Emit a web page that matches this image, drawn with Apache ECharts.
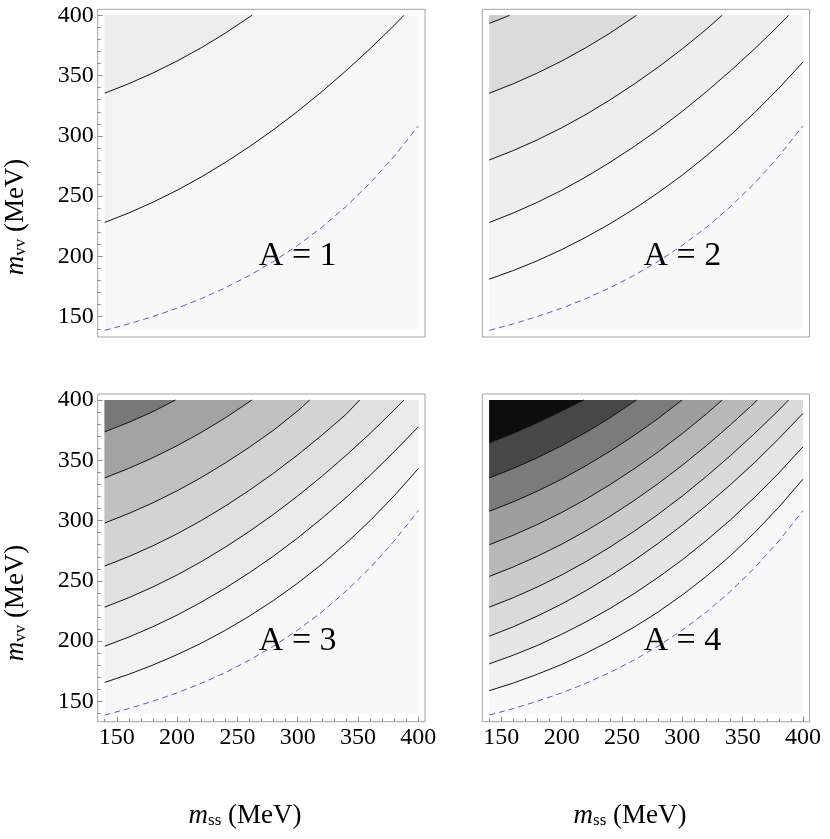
<!DOCTYPE html>
<html><head><meta charset="utf-8">
<script src="https://cdn.jsdelivr.net/npm/echarts@6/dist/echarts.min.js"></script>
<style>html,body{margin:0;padding:0;background:#fff}#c{width:830px;height:839px}</style>
</head><body><div id="c"></div>
<script>
// ---------- data ----------
const majorTicks = [150, 200, 250, 300, 350, 400];
const minorTicks = [140, 160, 170, 180, 190, 210, 220, 230, 240, 260, 270, 280, 290, 310, 320, 330, 340, 360, 370, 380, 390];
const panelTitles = ['A = 1', 'A = 2', 'A = 3', 'A = 4'];
const titlePoint = [300, 200];
const plotBox = [[140, 140], [400, 140]];

// contour lines [m_ss, m_vv]
const c393 = [[140,393.4],[148,396.4],[156.8,400]];
const c374 = [[140,373.6],[160,381.5],[180,390.4],[198.6,400]];
const c365 = [[140,364.5],[160,372.4],[180,381.3],[200,391.0],[218.2,400]];
const c335 = [[140,335.4],[160,343.3],[180,352.2],[200,362.1],[220,373.1],[240,385.2],[262,400]];
const c308 = [[140,307.7],[160,315.6],[180,324.5],[200,334.4],[220,345.4],[240,357.5],[260,370.6],[280,384.7],[299.8,400]];
const c298 = [[140,298],[160,305.9],[180,314.8],[200,324.7],[220,335.7],[240,347.8],[260,360.9],[280,375.0],[300,391.0],[310,400]];
const c280 = [[140,280],[160,287.9],[180,296.8],[200,306.7],[220,317.7],[240,329.8],[260,342.9],[280,357.0],[300,372.2],[320,388.5],[333,400]];
const c262 = [[140,262.3],[160,270.2],[180,279.1],[200,289.0],[220,300.0],[240,312.1],[260,325.2],[280,339.3],[300,354.5],[320,370.8],[340,388.1],[351.4,400]];
const c254 = [[140,253.7],[160,261.6],[180,270.5],[200,280.4],[220,291.4],[240,303.5],[260,316.6],[280,330.7],[300,345.9],[320,362.2],[340,379.5],[360,397.8],[362,400]];
const c228 = [[140,228.2],[160,236.1],[180,245.0],[200,254.9],[220,265.9],[240,278.0],[260,291.1],[280,305.2],[300,320.4],[320,336.7],[340,354.0],[360,372.3],[380,391.7],[388,400]];
const c204 = [[140,204.1],[160,212.0],[180,220.9],[200,230.8],[220,241.8],[240,253.9],[260,267.0],[280,281.1],[300,296.3],[320,312.6],[340,329.9],[360,348.2],[380,368.0],[400,388.9]];
const c196 = [[140,195.8],[160,203.4],[180,212.0],[200,221.6],[220,232.3],[240,244.0],[260,256.8],[280,270.6],[300,285.6],[320,301.8],[340,319.0],[360,337.5],[380,357.2],[400,377.8]];
const c181 = [[140,181.2],[160,188.4],[180,196.5],[200,205.7],[220,215.9],[240,227.1],[260,239.4],[280,252.9],[300,267.5],[320,283.5],[340,300.7],[360,319.4],[380,339.5],[400,361.2]];
const c166 = [[140,165.8],[160,172.5],[180,180.2],[200,188.8],[220,198.3],[240,209.0],[260,220.8],[280,233.8],[300,248.1],[320,263.8],[340,281.1],[360,299.9],[380,320.6],[400,343.2]];
const c159 = [[140,158.9],[160,165.3],[180,172.6],[200,180.7],[220,189.9],[240,200.2],[260,211.6],[280,224.2],[300,238.3],[320,253.8],[340,271.0],[360,290.1],[380,311.1],[400,334.3]];
const boundary = [[140,138.7],[160,144.1],[180,150.2],[200,157.1],[220,165.0],[240,174.0],[260,184.3],[280,195.9],[300,209.2],[320,224.2],[340,241.4],[360,260.9],[380,283.1],[400,308.3]];

const panelContours = [
  [c228, c335],
  [c181, c228, c280, c335, c393],
  [c166, c196, c228, c262, c298, c335, c374],
  [c159, c181, c204, c228, c254, c280, c308, c335, c365]
];

// ---------- styles ----------
const bandColors = [
  ['#f8f8f8','#f3f3f3','#ededed'],
  ['#f8f8f8','#f4f4f4','#efefef','#e7e7e7','#dbdbdb','#cbcbcb'],
  ['#f8f8f8','#f2f2f2','#eaeaea','#e0e0e0','#d3d3d3','#c1c1c1','#a3a3a3','#787878'],
  ['#f8f8f8','#f0f0f0','#e6e6e6','#dadada','#cbcbcb','#b8b8b8','#9e9e9e','#7b7b7b','#474747','#0d0d0d']
];
const FONT = '"Liberation Serif","Times New Roman",serif';
const XMIN = 134.2, XMAX = 405.5, YMIN = 133.2, YMAX = 405;
const gridPos = [[97.7, 9.3], [482.3, 9.3], [97.7, 394], [482.3, 394]];
const GW = 327.3, GH = 327.7;
const showX = [false, false, true, true];
const showY = [true, false, true, false];
const tickColor = '#8c8c8c';

const grid = [], xAxis = [], yAxis = [], series = [];
panelContours.forEach((contours, g) => {
  grid.push({left: gridPos[g][0], top: gridPos[g][1], width: GW, height: GH, show: true,
    borderColor: '#a3a3a3', borderWidth: 1, backgroundColor: 'transparent'});
  const base = {gridIndex: g, type: 'value', axisLine: {show: false, onZero: false}, splitLine: {show: false}};
  const lab = {fontFamily: FONT, fontSize: 24, color: '#000'};
  xAxis.push(Object.assign({}, base, {min: XMIN, max: XMAX, show: showX[g], position: 'bottom',
    axisLabel: {show: false}, axisTick: {show: true, inside: true, length: 3, customValues: minorTicks, lineStyle: {color: tickColor}}}));
  xAxis.push(Object.assign({}, base, {min: XMIN, max: XMAX, show: showX[g], position: 'bottom',
    axisLabel: Object.assign({show: true, customValues: majorTicks, margin: 4}, lab),
    axisTick: {show: true, inside: true, length: 5, customValues: majorTicks, lineStyle: {color: tickColor}}}));
  yAxis.push(Object.assign({}, base, {min: YMIN, max: YMAX, show: showY[g], position: 'left',
    axisLabel: {show: false}, axisTick: {show: true, inside: true, length: 3, customValues: minorTicks, lineStyle: {color: tickColor}}}));
  yAxis.push(Object.assign({}, base, {min: YMIN, max: YMAX, show: showY[g], position: 'left',
    axisLabel: Object.assign({show: true, customValues: majorTicks, margin: 4}, lab),
    axisTick: {show: true, inside: true, length: 5, customValues: majorTicks, lineStyle: {color: tickColor}}}));
  const ax = {xAxisIndex: 2 * g, yAxisIndex: 2 * g};
  series.push(Object.assign({type: 'line', data: plotBox, symbol: 'none', silent: true, z: 1,
    lineStyle: {opacity: 0}, areaStyle: {origin: 400, color: bandColors[g][0], opacity: 1}}, ax));
  contours.forEach((c, k) => {
    series.push(Object.assign({type: 'line', data: c, symbol: 'none', silent: true, z: 2,
      lineStyle: {color: '#111', width: 1}, areaStyle: {origin: 400, color: bandColors[g][k + 1], opacity: 1}}, ax));
  });
  series.push(Object.assign({type: 'line', data: boundary, symbol: 'none', silent: true, z: 3,
    lineStyle: {color: '#5c5cc8', width: 1, type: [6, 4]}}, ax));
  series.push(Object.assign({type: 'scatter', data: [titlePoint], symbolSize: 1, silent: true, z: 4,
    itemStyle: {color: 'rgba(0,0,0,0)'},
    label: {show: true, position: 'inside', formatter: panelTitles[g], fontFamily: FONT, fontSize: 34,
      color: '#000', textBorderWidth: 0, opacity: 1}}, ax));
});

const rich = {
  m: {font: 'italic 27px ' + FONT, fill: '#000', lineHeight: 34, verticalAlign: 'bottom'},
  s: {font: '17px ' + FONT, fill: '#000', lineHeight: 17, verticalAlign: 'bottom'},
  n: {font: '27px ' + FONT, fill: '#000', lineHeight: 34, verticalAlign: 'bottom'}
};
function nameText(x, y, sub, rot) {
  return {type: 'text', x: x, y: y, rotation: rot, silent: true,
    style: {text: '{m|m}{s|' + sub + '}{n| (MeV)}', rich: rich, align: 'center', verticalAlign: 'middle',
      textAlign: 'center', textVerticalAlign: 'middle', fill: '#000', font: '27px ' + FONT}};
}
const graphic = [
  nameText(245, 812, 'ss', 0), nameText(630, 812, 'ss', 0),
  nameText(12, 217, 'vv', Math.PI / 2), nameText(12, 603, 'vv', Math.PI / 2)
];

const chart = echarts.init(document.getElementById('c'), null, {renderer: 'canvas'});
chart.setOption({animation: false, backgroundColor: '#fff', grid, xAxis, yAxis, series, graphic});
</script></body></html>
